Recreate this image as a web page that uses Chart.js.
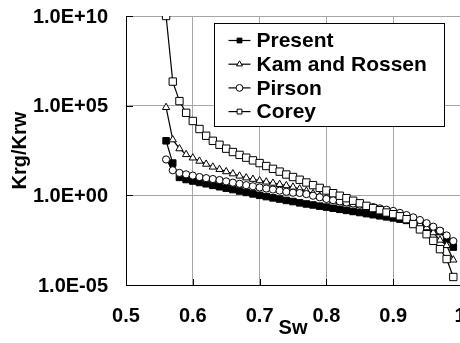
<!DOCTYPE html>
<html>
<head>
<meta charset="utf-8">
<script src="https://cdn.jsdelivr.net/npm/chart.js@4"></script>
<style>
  html, body { margin: 0; padding: 0; background: #fff; overflow: hidden; }
  #wrap { width: 460px; height: 343px; overflow: hidden; }
</style>
</head>
<body>
<div id="wrap"><canvas id="chart" width="480" height="343"></canvas></div>
<script>
// water saturation values (x)
const sw = [0.56, 0.57, 0.58, 0.59, 0.60, 0.61, 0.62, 0.63, 0.64, 0.65,
            0.66, 0.67, 0.68, 0.69, 0.70, 0.71, 0.72, 0.73, 0.74, 0.75,
            0.76, 0.77, 0.78, 0.79, 0.80, 0.81, 0.82, 0.83, 0.84, 0.85,
            0.86, 0.87, 0.88, 0.89, 0.90, 0.91, 0.92, 0.93, 0.94, 0.95,
            0.96, 0.97, 0.98, 0.99];

// Krg/Krw for each model
const present = [1.1e3, 63, 10, 7.6, 6.3, 5.2, 4.4, 3.6, 3.0, 2.5,
                 2.1, 1.74, 1.45, 1.2, 1.0, 0.85, 0.72, 0.62, 0.52, 0.45,
                 0.38, 0.33, 0.29, 0.25, 0.22, 0.19, 0.166, 0.145, 0.126, 0.11,
                 0.095, 0.083, 0.072, 0.063, 0.055, 0.047, 0.04, 0.033, 0.026, 0.02,
                 0.0145, 0.0095, 0.0035, 0.0013];
const kamRossen = [8e4, 1.26e3, 400, 190, 123, 81, 55, 38, 28, 21,
                   16, 12, 9.5, 7.9, 6.6, 5.6, 4.8, 4.1, 3.5, 2.9,
                   2.3, 1.74, 1.26, 0.91, 0.69, 0.49, 0.42, 0.36, 0.32, 0.27,
                   0.23, 0.2, 0.17, 0.145, 0.12, 0.091, 0.066, 0.042, 0.024, 0.0158,
                   0.0083, 0.0032, 0.0016, 2.5e-4];
const pirson = [100, 25, 17.8, 14.8, 12.6, 10.5, 9.1, 8.1, 7.1, 6.0,
                5.1, 4.4, 3.7, 3.2, 2.75, 2.4, 2.1, 1.82, 1.58, 1.4,
                1.35, 1.17, 0.95, 0.78, 0.63, 0.54, 0.46, 0.4, 0.35, 0.3,
                0.25, 0.22, 0.186, 0.158, 0.135, 0.105, 0.079, 0.059, 0.042, 0.028,
                0.0178, 0.0107, 0.0058, 0.0028];
const corey = [1e10, 2.2e6, 1.8e5, 4.0e4, 1.4e4, 5.0e3, 2.1e3, 1.1e3, 660, 400,
               260, 180, 126, 89, 63, 43, 30, 21, 14.5, 10.5,
               7.4, 5.2, 3.7, 2.6, 1.86, 1.32, 0.95, 0.69, 0.5, 0.36,
               0.26, 0.195, 0.148, 0.11, 0.089, 0.068, 0.047, 0.025, 0.0126, 0.0068,
               0.0029, 0.001, 2.8e-4, 2.8e-5];

const seriesNames = ['Present', 'Kam and Rossen', 'Pirson', 'Corey'];
const xTicks = [0.5, 0.6, 0.7, 0.8, 0.9, 1];
const xTickLabels = ['0.5', '0.6', '0.7', '0.8', '0.9', '1'];
const yTicks = [1e-5, 1, 1e5, 1e10];
const yTickLabels = ['1.0E-05', '1.0E+00', '1.0E+05', '1.0E+10'];

const FONT = "'Liberation Sans', Arial, sans-serif";

function pts(vals) {
  return sw.map((x, i) => ({ x: x, y: vals[i] }));
}

function series(name, vals, style, fill, radius, order) {
  return {
    label: name,
    data: pts(vals),
    showLine: true,
    borderColor: '#000',
    borderWidth: 1.2,
    pointStyle: style,
    pointRadius: radius,
    pointBackgroundColor: fill,
    pointBorderColor: '#000',
    pointBorderWidth: 1,
    order: order
  };
}

// inward tick marks + legend box inside the plot
const extras = {
  id: 'extras',
  beforeDatasetsDraw(chart) {
    const ctx = chart.ctx;
    const a = chart.chartArea;
    const sx = chart.scales.x, sy = chart.scales.y;
    ctx.save();
    ctx.strokeStyle = '#000';
    ctx.lineWidth = 1;
    ctx.beginPath();
    xTicks.forEach(v => {
      const px = Math.round(sx.getPixelForValue(v)) + 0.5;
      ctx.moveTo(px, a.bottom);
      ctx.lineTo(px, a.bottom - 6);
    });
    yTicks.forEach(v => {
      const py = Math.round(sy.getPixelForValue(v)) + 0.5;
      ctx.moveTo(a.left, py);
      ctx.lineTo(a.left + 7, py);
    });
    ctx.stroke();
    ctx.restore();
  },
  afterDraw(chart) {
    const ctx = chart.ctx;
    const a = chart.chartArea;
    const bx = Math.round(a.left) + 88.5, by = Math.round(a.top) + 7.5;
    ctx.save();
    ctx.fillStyle = '#fff';
    ctx.fillRect(bx, by, 230, 103);
    ctx.strokeStyle = '#000';
    ctx.lineWidth = 1;
    ctx.strokeRect(bx, by, 230, 103);
    ctx.font = 'bold 21px ' + FONT;
    ctx.textBaseline = 'middle';
    ctx.textAlign = 'left';
    chart.data.datasets.forEach((ds, i) => {
      const y = by + 17 + i * 23.7;
      ctx.strokeStyle = '#000';
      ctx.lineWidth = 1.2;
      ctx.beginPath();
      ctx.moveTo(bx + 14, y);
      ctx.lineTo(bx + 36, y);
      ctx.stroke();
      ctx.fillStyle = ds.pointBackgroundColor;
      ctx.lineWidth = 1;
      Chart.helpers.drawPoint(ctx, {
        pointStyle: ds.pointStyle,
        radius: 3.4,
        rotation: 0,
        borderWidth: 1
      }, bx + 25, y);
      ctx.fillStyle = '#000';
      ctx.fillText(ds.label, bx + 42, y + 1);
    });
    ctx.restore();
  }
};

new Chart(document.getElementById('chart'), {
  type: 'scatter',
  data: {
    datasets: [
      series(seriesNames[0], present, 'rect', '#000', 4.6, 4),
      series(seriesNames[1], kamRossen, 'triangle', '#fff', 4.2, 3),
      series(seriesNames[2], pirson, 'circle', '#fff', 3.6, 2),
      series(seriesNames[3], corey, 'rect', '#fff', 5.2, 1)
    ]
  },
  options: {
    responsive: false,
    animation: false,
    devicePixelRatio: 1,
    layout: { padding: { top: 16, right: 20, left: 0, bottom: 0 } },
    plugins: {
      legend: { display: false },
      tooltip: { enabled: false }
    },
    scales: {
      x: {
        type: 'linear',
        min: 0.5,
        max: 1,
        afterBuildTicks: s => { s.ticks = xTicks.map(v => ({ value: v })); },
        afterFit: s => { s.height = 58; s.paddingLeft = 0; s.paddingRight = 0; },
        grid: { color: '#a6a6a6', lineWidth: 1, drawTicks: false },
        border: { color: '#000', width: 1 },
        ticks: {
          padding: 19,
          maxRotation: 0,
          autoSkip: false,
          color: '#000',
          font: { family: FONT, size: 20, weight: 'bold' },
          callback: (v, i) => xTickLabels[i]
        },
        title: {
          display: true,
          text: 'Sw',
          color: '#000',
          font: { family: FONT, size: 20, weight: 'bold' },
          padding: { top: 0, bottom: 3 }
        }
      },
      y: {
        type: 'logarithmic',
        min: 1e-5,
        max: 1e10,
        afterBuildTicks: s => { s.ticks = yTicks.map(v => ({ value: v })); },
        afterFit: s => { s.width = 126; s.paddingTop = 0; s.paddingBottom = 0; },
        grid: { color: '#a6a6a6', lineWidth: 1, drawTicks: false },
        border: { color: '#000', width: 1 },
        ticks: {
          padding: 18,
          labelOffset: 1,
          autoSkip: false,
          color: '#000',
          font: { family: FONT, size: 20, weight: 'bold' },
          callback: (v, i) => yTickLabels[i]
        },
        title: {
          display: true,
          text: 'Krg/Krw',
          color: '#000',
          font: { family: FONT, size: 20, weight: 'bold' },
          padding: { top: 8, bottom: 0 }
        }
      }
    }
  },
  plugins: [extras]
});
</script>
</body>
</html>
